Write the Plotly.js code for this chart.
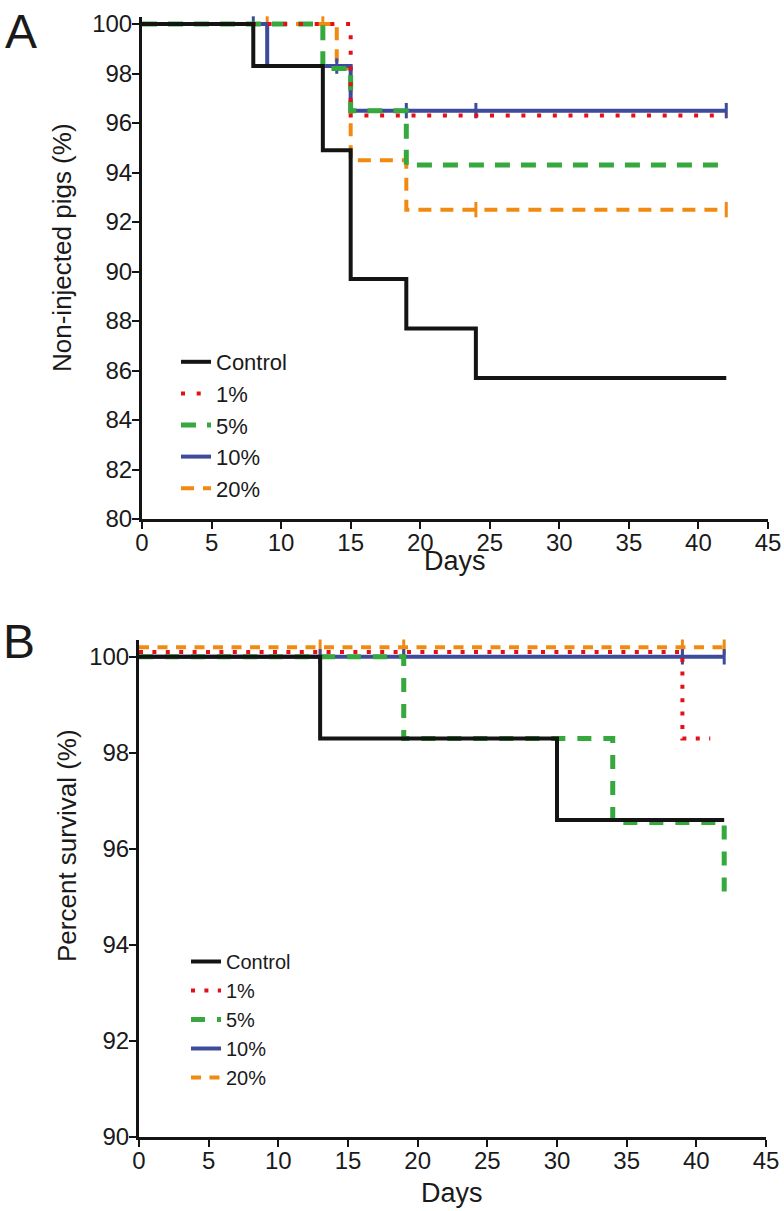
<!DOCTYPE html>
<html>
<head>
<meta charset="utf-8">
<script src="https://cdn.plot.ly/plotly-3.0.1.min.js"></script>
<style>
body { margin: 0; background: #fff; }
#myPlot { width: 784px; height: 1211px; }
</style>
</head>
<body>
<div id="myPlot"></div>
<script>
const W = 784, H = 1211;

// panel A - non-injected pigs (%)
const ctrlA_x = [0, 8, 13, 15, 19, 24, 42];
const ctrlA_y = [100, 98.3, 94.9, 89.7, 87.7, 85.7, 85.7];
const p1A_x = [0, 15, 42];
const p1A_y = [100, 96.3, 96.3];
const p5A_x = [0, 13, 15, 19, 42];
const p5A_y = [100, 98.2, 96.5, 94.3, 94.3];
const p10A_x = [0, 9, 15, 42];
const p10A_y = [100, 98.3, 96.5, 96.5];
const p10A_cx = [8, 14, 19, 24, 42];
const p10A_cy = [100, 98.3, 96.5, 96.5, 96.5];
const p20A_x = [0, 14, 15, 19, 42];
const p20A_y = [100, 98.2, 94.5, 92.5, 92.5];
const p20A_cx = [9, 13, 24, 42];
const p20A_cy = [100, 100, 92.5, 92.5];

// panel B - percent survival (%)
const ctrlB_x = [0, 13, 30, 42];
const ctrlB_y = [100, 98.3, 96.6, 96.6];
const p1B_x = [0, 39, 41];
const p1B_y = [100.1, 98.3, 98.3];
const p5B_x = [0, 19, 34, 42];
const p5B_y = [100, 98.3, 96.55, 95.1];
const p10B_x = [0, 42];
const p10B_y = [100, 100];
const p10B_cx = [13, 19, 39, 42];
const p10B_cy = [100, 100, 100, 100];
const p20B_x = [0, 42];
const p20B_y = [100.2, 100.2];
const p20B_cx = [13, 19, 39, 42];
const p20B_cy = [100.2, 100.2, 100.2, 100.2];

const black = '#141414', red = '#e3101a', green = '#35a83e', blue = '#3d4b9d', orange = '#f28a11';

function stepLine(x, y, name, color, dash, width, xa, ya, leg) {
    return {
        x: x, y: y, name: name, xaxis: xa, yaxis: ya, legend: leg,
        type: 'scatter', mode: 'lines',
        line: { shape: 'hv', color: color, width: width, dash: dash }
    };
}

function censor(x, y, color, xa, ya) {
    return {
        x: x, y: y, xaxis: xa, yaxis: ya, showlegend: false,
        type: 'scatter', mode: 'markers', cliponaxis: false,
        marker: { symbol: 'line-ns', size: 11, color: color, line: { color: color, width: 3 } }
    };
}

// drawn bottom to top: 20%, 10%, 5%, 1%, Control
const data = [
    stepLine(p20A_x, p20A_y, '20%', orange, '13px,9px', 4, 'x', 'y', 'legend'),
    censor(p20A_cx, p20A_cy, orange, 'x', 'y'),
    stepLine(p10A_x, p10A_y, '10%', blue, 'solid', 4, 'x', 'y', 'legend'),
    censor(p10A_cx, p10A_cy, blue, 'x', 'y'),
    stepLine(p5A_x, p5A_y, '5%', green, '15px,11px', 5, 'x', 'y', 'legend'),
    stepLine(p1A_x, p1A_y, '1%', red, '4px,11.7px', 4, 'x', 'y', 'legend'),
    stepLine(ctrlA_x, ctrlA_y, 'Control', black, 'solid', 4, 'x', 'y', 'legend'),

    stepLine(p20B_x, p20B_y, '20%', orange, '10px,8.5px', 4, 'x2', 'y2', 'legend2'),
    censor(p20B_cx, p20B_cy, orange, 'x2', 'y2'),
    stepLine(p10B_x, p10B_y, '10%', blue, 'solid', 4, 'x2', 'y2', 'legend2'),
    censor(p10B_cx, p10B_cy, blue, 'x2', 'y2'),
    stepLine(p5B_x, p5B_y, '5%', green, '14px,12px', 5, 'x2', 'y2', 'legend2'),
    stepLine(p1B_x, p1B_y, '1%', red, '4px,9.4px', 4, 'x2', 'y2', 'legend2'),
    stepLine(ctrlB_x, ctrlB_y, 'Control', black, 'solid', 4, 'x2', 'y2', 'legend2')
];

const axisStyle = {
    showline: true, linewidth: 3, linecolor: black,
    ticks: 'outside', ticklen: 7, tickwidth: 2, tickcolor: black,
    showgrid: false, zeroline: false,
    tickfont: { size: 24, color: '#1a1a1a' }
};

function label(text, x, y, size, angle) {
    return {
        text: text, x: x / W, y: 1 - y / H, xref: 'paper', yref: 'paper',
        xanchor: 'center', yanchor: 'middle', showarrow: false,
        textangle: angle || 0, font: { size: size }
    };
}

const layout = {
    width: W, height: H,
    margin: { l: 0, r: 0, t: 0, b: 0 },
    paper_bgcolor: '#fff', plot_bgcolor: '#fff',
    font: { family: 'Liberation Sans, Arial, sans-serif', color: '#1a1a1a' },
    xaxis: Object.assign({}, axisStyle, { domain: [142 / W, 768 / W], range: [0, 45], tick0: 0, dtick: 5, anchor: 'y', ticklabelstandoff: -7 }),
    yaxis: Object.assign({}, axisStyle, { domain: [1 - 519 / H, 1 - 16.6 / H], range: [80, 100.3], tick0: 80, dtick: 2, anchor: 'x', ticklabelstandoff: -5 }),
    xaxis2: Object.assign({}, axisStyle, { domain: [139 / W, 766 / W], range: [0, 45], tick0: 0, dtick: 5, anchor: 'y2', ticklabelstandoff: -7 }),
    yaxis2: Object.assign({}, axisStyle, { domain: [1 - 1137 / H, 1 - 640 / H], range: [90, 100.35], tick0: 90, dtick: 2, anchor: 'x2', ticklabelstandoff: -5 }),
    legend: {
        x: 176 / W, y: 1 - 341 / H, xanchor: 'left', yanchor: 'top',
        traceorder: 'reversed', bgcolor: 'rgba(0,0,0,0)', font: { size: 22 }
    },
    legend2: {
        x: 186 / W, y: 1 - 942 / H, xanchor: 'left', yanchor: 'top',
        traceorder: 'reversed', bgcolor: 'rgba(0,0,0,0)', font: { size: 20 }
    },
    annotations: [
        label('A', 21, 32, 48),
        label('B', 19, 641, 48),
        label('Non-injected pigs (%)', 62, 248, 26, -90),
        label('Percent survival (%)', 67, 846, 26, -90),
        label('Days', 455, 561, 27),
        label('Days', 452, 1193, 27)
    ]
};

Plotly.newPlot('myPlot', data, layout, { staticPlot: true });
</script>
</body>
</html>
